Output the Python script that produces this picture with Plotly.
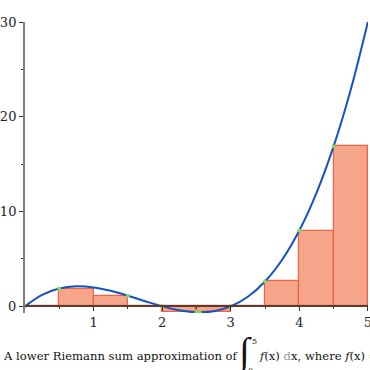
import plotly.graph_objects as go

# curve samples of f(x) = x(x-2)(x-3), read at steps of 0.25
curve_x = [0, 0.25, 0.5, 0.75, 1, 1.25, 1.5, 1.75, 2, 2.25, 2.5, 2.75, 3,
           3.25, 3.5, 3.75, 4, 4.25, 4.5, 4.75, 5]
curve_y = [0, 1.203, 1.875, 2.109, 2, 1.641, 1.125, 0.547, 0, -0.422, -0.625,
           -0.516, 0, 1.016, 2.625, 4.922, 8, 11.953, 16.875, 22.859, 30]

# lower Riemann rectangles (left edges, width, heights)
rect_left = [0, 0.5, 1, 1.5, 2, 2.5, 3, 3.5, 4, 4.5]
rect_width = 0.5
rect_h = [0, 1.875, 1.125, 0, -0.625, -0.631, 0, 2.625, 8, 16.875]

# points where the minimum is attained
min_x = [0, 0.5, 1.5, 2, 2.5, 2.549, 3, 3.5, 4, 4.5]
min_y = [0, 1.875, 1.125, 0, -0.625, -0.631, 0, 2.625, 8, 16.875]

x_ticks = [1, 2, 3, 4, 5]
y_ticks = [0, 10, 20, 30]

YMIN, YMAX = -0.7, 30
L, R, T, B = 25, 1.5, 22, 57.4
W = H = 370
PW, PH = W - L - R, H - T - B


def px(xp):
    return (xp - L) / PW


def py(yp):
    return (H - B - yp) / PH


fig = go.Figure()
fig.add_trace(go.Bar(
    x=[l + rect_width / 2 for l in rect_left], y=rect_h, width=rect_width,
    marker=dict(color="#F4A58A", line=dict(color="#EE6440", width=1.2)),
    hoverinfo="skip"))
fig.add_trace(go.Scatter(
    x=curve_x, y=curve_y, mode="lines",
    line=dict(color="#1452C4", width=2, shape="spline", smoothing=1.0)))
fig.add_trace(go.Scatter(
    x=min_x, y=min_y, mode="markers",
    marker=dict(color="#7EDB55", size=4)))

serif = "DejaVu Serif"
fig.update_layout(
    width=W, height=H, showlegend=False,
    paper_bgcolor="white", plot_bgcolor="white",
    margin=dict(l=L, r=R, t=T, b=B, autoexpand=False),
    bargap=0,
    xaxis=dict(range=[0, 5.002], anchor="free", position=(0 - YMIN) / (YMAX - YMIN),
               automargin=False, ticklabeloverflow="allow",
               tickvals=x_ticks, ticktext=[str(v) for v in x_ticks],
               ticks="outside", ticklen=4, tickcolor="#333",
               minor=dict(tickvals=[0.5, 1.5, 2.5, 3.5, 4.5], ticks="outside", ticklen=2, tickcolor="#333"),
               showline=True, linecolor="#5C3A30", linewidth=1.5,
               showgrid=False, zeroline=False,
               tickfont=dict(family=serif, size=13, color="#222"),
               layer="above traces"),
    yaxis=dict(range=[YMIN, YMAX], automargin=False,
               tickvals=y_ticks, ticktext=[str(v) for v in y_ticks],
               ticks="outside", ticklen=4, tickcolor="#333",
               minor=dict(tickvals=[5, 15, 25], ticks="outside", ticklen=2, tickcolor="#333"),
               showline=True, linecolor="#808080", linewidth=2,
               showgrid=False, zeroline=False,
               tickfont=dict(family=serif, size=13, color="#222")),
)

cap_font = dict(family=serif, size=11.6, color="#111")
fig.add_annotation(text="A lower Riemann sum approximation of", xref="paper", yref="paper",
                   x=px(1), y=py(356), xanchor="left", yanchor="middle",
                   showarrow=False, font=cap_font)
fig.add_annotation(text="\u222b", xref="paper", yref="paper",
                   x=px(245), y=py(352), xanchor="center", yanchor="middle",
                   showarrow=False, font=dict(family="Liberation Serif", size=38, color="#111"))
fig.add_annotation(text="5", xref="paper", yref="paper",
                   x=px(255), y=py(341), xanchor="center", yanchor="middle",
                   showarrow=False, font=dict(family=serif, size=8, color="#111"))
fig.add_annotation(text="0", xref="paper", yref="paper",
                   x=px(251), y=py(370), xanchor="center", yanchor="middle",
                   showarrow=False, font=dict(family=serif, size=8, color="#111"))
fig.add_annotation(text="<i>f</i>(x) <span style='color:#999'>d</span>x, where <i>f</i>(x) = x(x \u2212 2)(x \u2212 3)",
                   xref="paper", yref="paper",
                   x=px(257), y=py(356), xanchor="left", yanchor="middle",
                   showarrow=False, font=cap_font)

fig.write_html("out.html", config={"displayModeBar": False},
               post_script="document.body.style.margin='0px';")
